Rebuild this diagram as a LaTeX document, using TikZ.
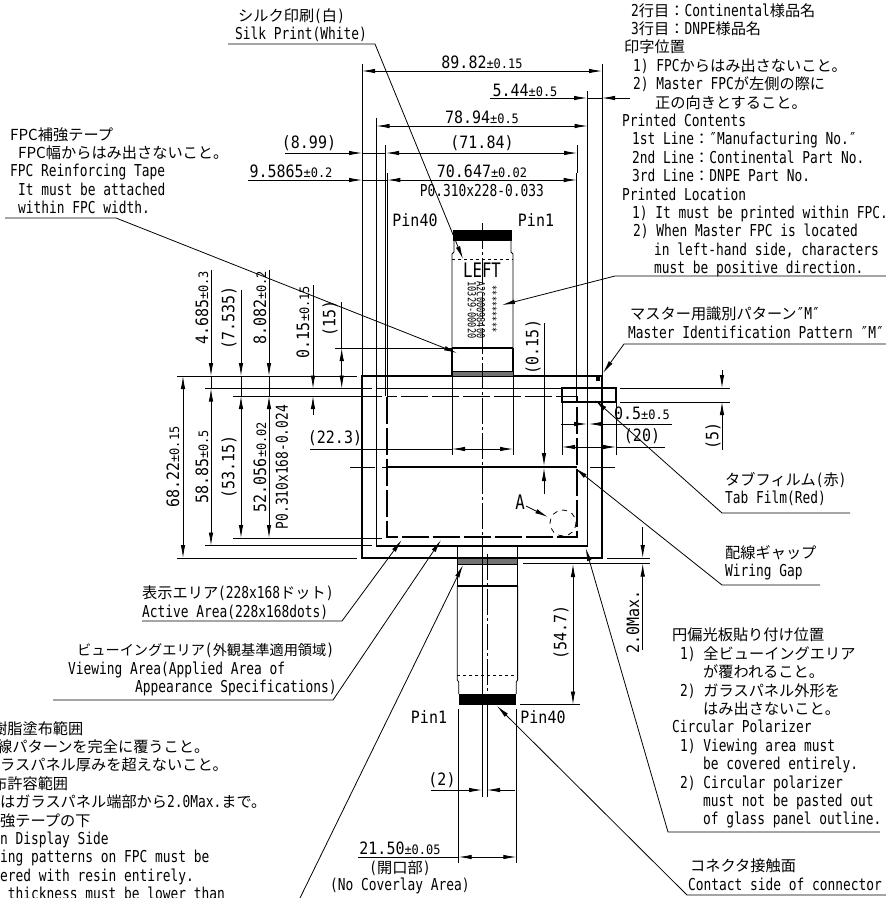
\documentclass[tikz,border=0pt]{standalone}
\usepackage{fontspec}
\usetikzlibrary{arrows.meta}
\newfontfamily\notefam[FakeStretch=0.785]{DejaVu Sans Mono}
\newfontfamily\dimfam[FakeStretch=0.88]{DejaVu Sans Mono}
\newfontfamily\tolfam[FakeStretch=0.92]{DejaVu Sans Mono}
\newfontfamily\jpfam{Noto Sans CJK JP}
\newcommand{\jp}[1]{{\jpfam\fontsize{15.2}{18.4}\selectfont #1}}
\newcommand{\jpn}[1]{{\jpfam\fontsize{14.2}{18.4}\selectfont #1}}
\newcommand{\tol}[1]{{\tolfam\fontsize{13}{15}\selectfont ±#1}}
\newcommand{\notefont}{\notefam\fontsize{16.4}{18.4}\selectfont\lineskiplimit=-20pt }
\newcommand{\dimfont}{\dimfam\fontsize{17}{19}\selectfont}
\newcommand{\ind}[1]{\hspace*{#1pt}}
\tikzset{
  >={Latex[length=13pt,width=4.5pt]},
  thinln/.style={line width=0.8pt},
  heavyln/.style={line width=1.25pt},
  centerln/.style={line width=0.8pt,dash pattern=on 26pt off 3pt on 3pt off 3pt},
  note/.style={font=\notefont,inner sep=0pt,align=left,anchor=north west},
  dimtext/.style={font=\dimfont,inner sep=0pt},
  lead/.style={line width=0.8pt}
}
\begin{document}
\begin{tikzpicture}[x=1pt,y=-1pt]
\useasboundingbox (0,0) rectangle (886,898);
% outlines
\draw[heavyln] (362,376) rectangle (602,558);
\draw[heavyln] (376.5,388.5) rectangle (587.5,546);
\draw[line width=1.6pt,dash pattern=on 27pt off 4pt] (387,396.5) rectangle (577,537);
\draw[heavyln] (387,467) -- (577,467);
\draw[thinln] (350,467) -- (375,467) (382,467) -- (387,467) (590,467) -- (615,467);
\draw[thinln,dash pattern=on 5pt off 5pt] (563,523) circle (13);
% tab film
\draw[heavyln] (562,388) rectangle (616,402);
\fill (596,377) rectangle (600,381);
% upper FPC
\fill (453,230) rectangle (512,241);
\draw[thinln] (454,241) -- (454,252) -- (452,254) -- (452,376);
\draw[thinln] (511,241) -- (511,252) -- (513,254) -- (513,376);
\draw[thinln,dashed] (452,259) -- (513,259);
\draw[heavyln] (452,348) -- (452,376) (513,348) -- (513,376) (452,348) -- (513,348);
\draw[thinln,fill=black!55] (452,371) rectangle (513,376);
\draw[thinln] (452,376) -- (452,388) (513,376) -- (513,388);
% lower FPC
\draw[heavyln] (457.3,546) -- (457.3,586) -- (517.6,586) -- (517.6,546);
\draw[thinln,fill=black!55] (457.3,558) rectangle (517.6,564);
\draw[thinln] (457.3,586) -- (457.3,675) -- (457.3,680) -- (458.7,682) -- (458.7,694);
\draw[thinln] (517.6,586) -- (517.6,675) -- (517.6,680) -- (516.3,682) -- (516.3,694);
\draw[thinln,dashed] (457.3,675) -- (517.6,675);
\fill (458.7,694) rectangle (516.3,705);
% center lines
\draw[centerln] (482,223) -- (482,546);
\draw[centerln] (487,554) -- (487,708);
\draw[thinln] (482,546) -- (482,797) (487,708) -- (487,797);
% extension lines
\draw[thinln] (362,64) -- (362,376) (602,64) -- (602,376);
\draw[thinln] (376.5,118) -- (376.5,388) (587.5,91) -- (587.5,388);
\draw[thinln] (385.7,145) -- (385.7,396) (577,145) -- (577,173);
\draw[heavyln] (387.3,173) -- (387.3,396) (576.7,173) -- (576.7,396);
\draw[thinln] (177,376) -- (357,376) (177,558) -- (357,558);
\draw[thinln] (205,388.5) -- (372,388.5) (205,545.5) -- (372,545.5);
\draw[thinln] (233,396) -- (382,396) (233,538) -- (382,538);
\draw[thinln] (335,348) -- (452,348);
\draw[thinln] (452,388) -- (452,455) (513,388) -- (513,455);
\draw[thinln] (562,402) -- (562,455) (616,402) -- (616,455);
\draw[thinln] (620,388) -- (730,388) (620,402) -- (730,402);
\draw[thinln] (607,558) -- (650,558) (523,563.5) -- (650,563.5);
\draw[thinln] (520,704.5) -- (580,704.5);
\draw[thinln] (458.7,709) -- (458.7,863) (516.3,709) -- (516.3,863);
% dimensions, top
\draw[thinln,<->] (362,71) -- (602,71);
\draw[thinln,->] (490,98) -- (587,98);
\draw[thinln,->] (630,98) -- (602,98);
\draw[thinln] (587,98) -- (602,98);
\draw[thinln,<->] (376.5,126) -- (587.5,126);
\draw[thinln,->] (285,153) -- (362,153);
\draw[thinln] (362,153) -- (386,153);
\draw[thinln,<->] (386,153) -- (577,153);
\draw[thinln,->] (248,180) -- (362,180);
\draw[thinln] (362,180) -- (387.3,180);
\draw[thinln,<->] (387.3,180) -- (576.7,180);
% dimensions, left
\draw[thinln,<->] (183,376) -- (183,558);
\draw[thinln,->] (211,270) -- (211,376);
\draw[thinln] (211,376) -- (211,388.5);
\draw[thinln,<->] (211,388.5) -- (211,545.5);
\draw[thinln,->] (241,290) -- (241,376);
\draw[thinln] (241,376) -- (241,396);
\draw[thinln,<->] (241,396) -- (241,538);
\draw[thinln,->] (269,270) -- (269,376);
\draw[thinln] (269,376) -- (269,396);
\draw[thinln,<->] (269,396) -- (269,538);
\draw[thinln,->] (313,285) -- (313,388.5);
\draw[thinln,->] (313,415) -- (313,396);
\draw[thinln] (341.7,302) -- (341.7,348);
\draw[thinln,<->] (341.7,348) -- (341.7,388.5);
\draw[thinln] (310,449) -- (452,449);
\draw[thinln,<->] (452,449) -- (513,449);
% dimensions, right and bottom
\draw[thinln,->] (544,323) -- (544,466);
\draw[thinln,->] (544,494) -- (544,468);
\draw[thinln,->] (561,424) -- (587,424);
\draw[thinln,->] (672,424) -- (589,424);
\draw[thinln,<->] (562,447) -- (616,447);
\draw[thinln] (616,447) -- (665,447);
\draw[thinln,->] (722,370) -- (722,388);
\draw[thinln,->] (722,450) -- (722,402);
\draw[thinln,->] (642.7,527) -- (642.7,558);
\draw[thinln,->] (642.7,650) -- (642.7,563.5);
\draw[thinln,<->] (573,564) -- (573,704.5);
\draw[thinln,->] (431,790) -- (482,790);
\draw[thinln,->] (515,790) -- (487,790);
\draw[thinln] (358,857) -- (458.7,857);
\draw[thinln,<->] (458.7,857) -- (516.3,857);
% leaders
\draw[lead,->] (228,44) -- (375,44) -- (463,259);
\draw[lead,->] (5,218) -- (116,218) -- (457,353);
\draw[lead,->] (886,276) -- (615,276) -- (502,305);
\draw[lead,->] (886,344) -- (624,344) -- (603,373);
\draw[lead,->] (850,513) -- (722,513) -- (595,400);
\draw[lead,->] (820,585) -- (722,585) -- (575,468);
\draw[lead,->] (880,832) -- (668,832) -- (585.7,548);
\draw[lead,->] (886,895) -- (687,895) -- (497,706);
\draw[lead,->] (142,621) -- (342,621) -- (401.7,540);
\draw[lead,->] (53,700) -- (333,700) -- (441,540);
\draw[lead,->] (300,898) -- (463,565);
\draw[lead,->] (526,506) -- (548,517);
% dimension texts
\node[dimtext] (d8982) at (482,62) {89.82\tol{0.15}};
\node[dimtext] (d544) at (525,90) {5.44\tol{0.5}};
\node[dimtext] (d7894) at (482,117) {78.94\tol{0.5}};
\node[dimtext] (d899) at (309,143) {(8.99)};
\node[dimtext] (d7184) at (482,143) {(71.84)};
\node[dimtext] (d95865) at (291,171) {9.5865\tol{0.2}};
\node[dimtext] (d70647) at (482,171) {70.647\tol{0.02}};
\node[dimtext,font=\notefont] (p228) at (482,191) {P0.310x228-0.033};
\node[dimtext,rotate=90] (d4685) at (202,308) {4.685\tol{0.3}};
\node[dimtext,rotate=90] (d7535) at (229,318) {(7.535)};
\node[dimtext,rotate=90] (d8082) at (260,308) {8.082\tol{0.2}};
\node[dimtext,rotate=90] (d015) at (303,322) {0.15\tol{0.15}};
\node[dimtext,rotate=90] (d15) at (330,318) {(15)};
\node[dimtext,rotate=90] (d6822) at (173,467) {68.22\tol{0.15}};
\node[dimtext,rotate=90] (d5885) at (202,467) {58.85\tol{0.5}};
\node[dimtext,rotate=90] (d5315) at (229,467) {(53.15)};
\node[dimtext,rotate=90] (d52056) at (260,467) {52.056\tol{0.02}};
\node[dimtext,font=\notefont,rotate=90] (p168) at (282,467) {P0.310x168-0.024};
\node[dimtext] (d223) at (335,438) {(22.3)};
\node[dimtext,rotate=90] (d015b) at (533,347) {(0.15)};
\node[dimtext] (d05) at (642,413) {0.5\tol{0.5}};
\node[dimtext] (d20) at (642,436) {(20)};
\node[dimtext,rotate=90] (d5) at (713,436) {(5)};
\node[dimtext,rotate=90] (d547) at (561,632) {(54.7)};
\node[dimtext,rotate=90] (d20max) at (633,622) {2.0Max.};
\node[dimtext] (d2) at (442,780) {(2)};
\node[dimtext] (d2150) at (400,848) {21.50\tol{0.05}};
\node[dimtext,font=\notefont] (opening) at (400,868) {(\jp{開口部})};
\node[dimtext,font=\notefont] (nocover) at (400,886) {(No Coverlay Area)};
% part texts
\node[dimtext] (pin40a) at (415,220) {Pin40};
\node[dimtext] (pin1a) at (536,220) {Pin1};
\node[dimtext] (pin1b) at (429,717) {Pin1};
\node[dimtext] (pin40b) at (543,717) {Pin40};
\node[dimtext,font=\notefam\fontsize{20}{22}\selectfont] (left) at (482,270) {LEFT};
\node[dimtext,font=\notefam\fontsize{20}{22}\selectfont] (mark) at (520,502) {A};
\node[dimtext,font=\notefam\fontsize{11}{13}\selectfont,rotate=-90] (lot) at (472,310) {10329-00020};
\node[dimtext,font=\notefam\fontsize{11}{13}\selectfont,rotate=-90] (cont) at (481,310) {A2C00098400};
\node[dimtext,font=\notefam\fontsize{11}{13}\selectfont,rotate=-90] (star) at (493,309) {*********};
% notes
\node[note] (silk) at (235,8) {\ind{3}\jp{シルク印刷}(\jp{白})\\Silk Print(White)};
\node[note] (tape) at (10,127) {\jp{FPC補強テープ}\\\ind{8}\jp{FPC幅からはみ出さないこと。}\\FPC Reinforcing Tape\\\ind{8}It must be attached\\\ind{8}within FPC width.};
\node[note] (print) at (622,3) {\ind{9}2\jp{行目：}Continental\jp{様品名}\\\ind{9}3\jp{行目：}DNPE\jp{様品名}\\\ind{2}\jp{印字位置}\\\ind{11}1) FPC\jp{からはみ出さないこと。}\\\ind{11}2) Master FPC\jp{が左側の際に}\\\ind{33}\jp{正の向きとすること。}\\Printed Contents\\\ind{10}1st Line\jp{：}″Manufacturing No.″\\\ind{10}2nd Line\jp{：}Continental Part No.\\\ind{10}3rd Line\jp{：}DNPE Part No.\\Printed Location\\\ind{10}1) It must be printed within FPC.\\\ind{11}2) When Master FPC is located\\\ind{32}in left-hand side, characters\\\ind{32}must be positive direction.};
\node[note] (master) at (628,307) {\ind{2}\jp{マスター用識別パターン}″M″\\Master Identification Pattern ″M″};
\node[note] (tab) at (725,472) {\jp{タブフィルム}(\jp{赤})\\Tab Film(Red)};
\node[note] (gap) at (725,545) {\jp{配線ギャップ}\\Wiring Gap};
\node[note] (polar) at (672,628) {\jp{円偏光板貼り付け位置}\\\ind{8}1) \jp{全ビューイングエリア}\\\ind{31}\jp{が覆われること。}\\\ind{8}2) \jp{ガラスパネル外形を}\\\ind{31}\jp{はみ出さないこと。}\\Circular Polarizer\\\ind{8}1) Viewing area must\\\ind{31}be covered entirely.\\\ind{8}2) Circular polarizer\\\ind{31}must not be pasted out\\\ind{31}of glass panel outline.};
\node[note] (contact) at (688,859) {\ind{2}\jp{コネクタ接触面}\\Contact side of connector};
\node[note] (active) at (142,586) {\jp{表示エリア}(228x168\jp{ドット})\\Active Area(228x168dots)};
\node[note] (view) at (68,643) {\ind{9}\jpn{ビューイングエリア}(\jpn{外観基準適用領域})\\Viewing Area(Applied Area of\\\ind{67}Appearance Specifications)};
\node[note] (resin) at (-8,721) {\jp{樹脂塗布範囲}\\\ind{5}\jp{線パターンを完全に覆うこと。}\\\ind{8}\jp{ラスパネル厚みを超えないこと。}\\\jp{布許容範囲}\\\ind{8}\jp{はガラスパネル端部から}2.0Max.\jp{まで。}\\\ind{8}\jp{強テープの下}\\\ind{8}n Display Side\\\ind{8}ing patterns on FPC must be\\\ind{8}ered with resin entirely.\\\ind{8} thickness must be lower than};
\end{tikzpicture}
\end{document}
